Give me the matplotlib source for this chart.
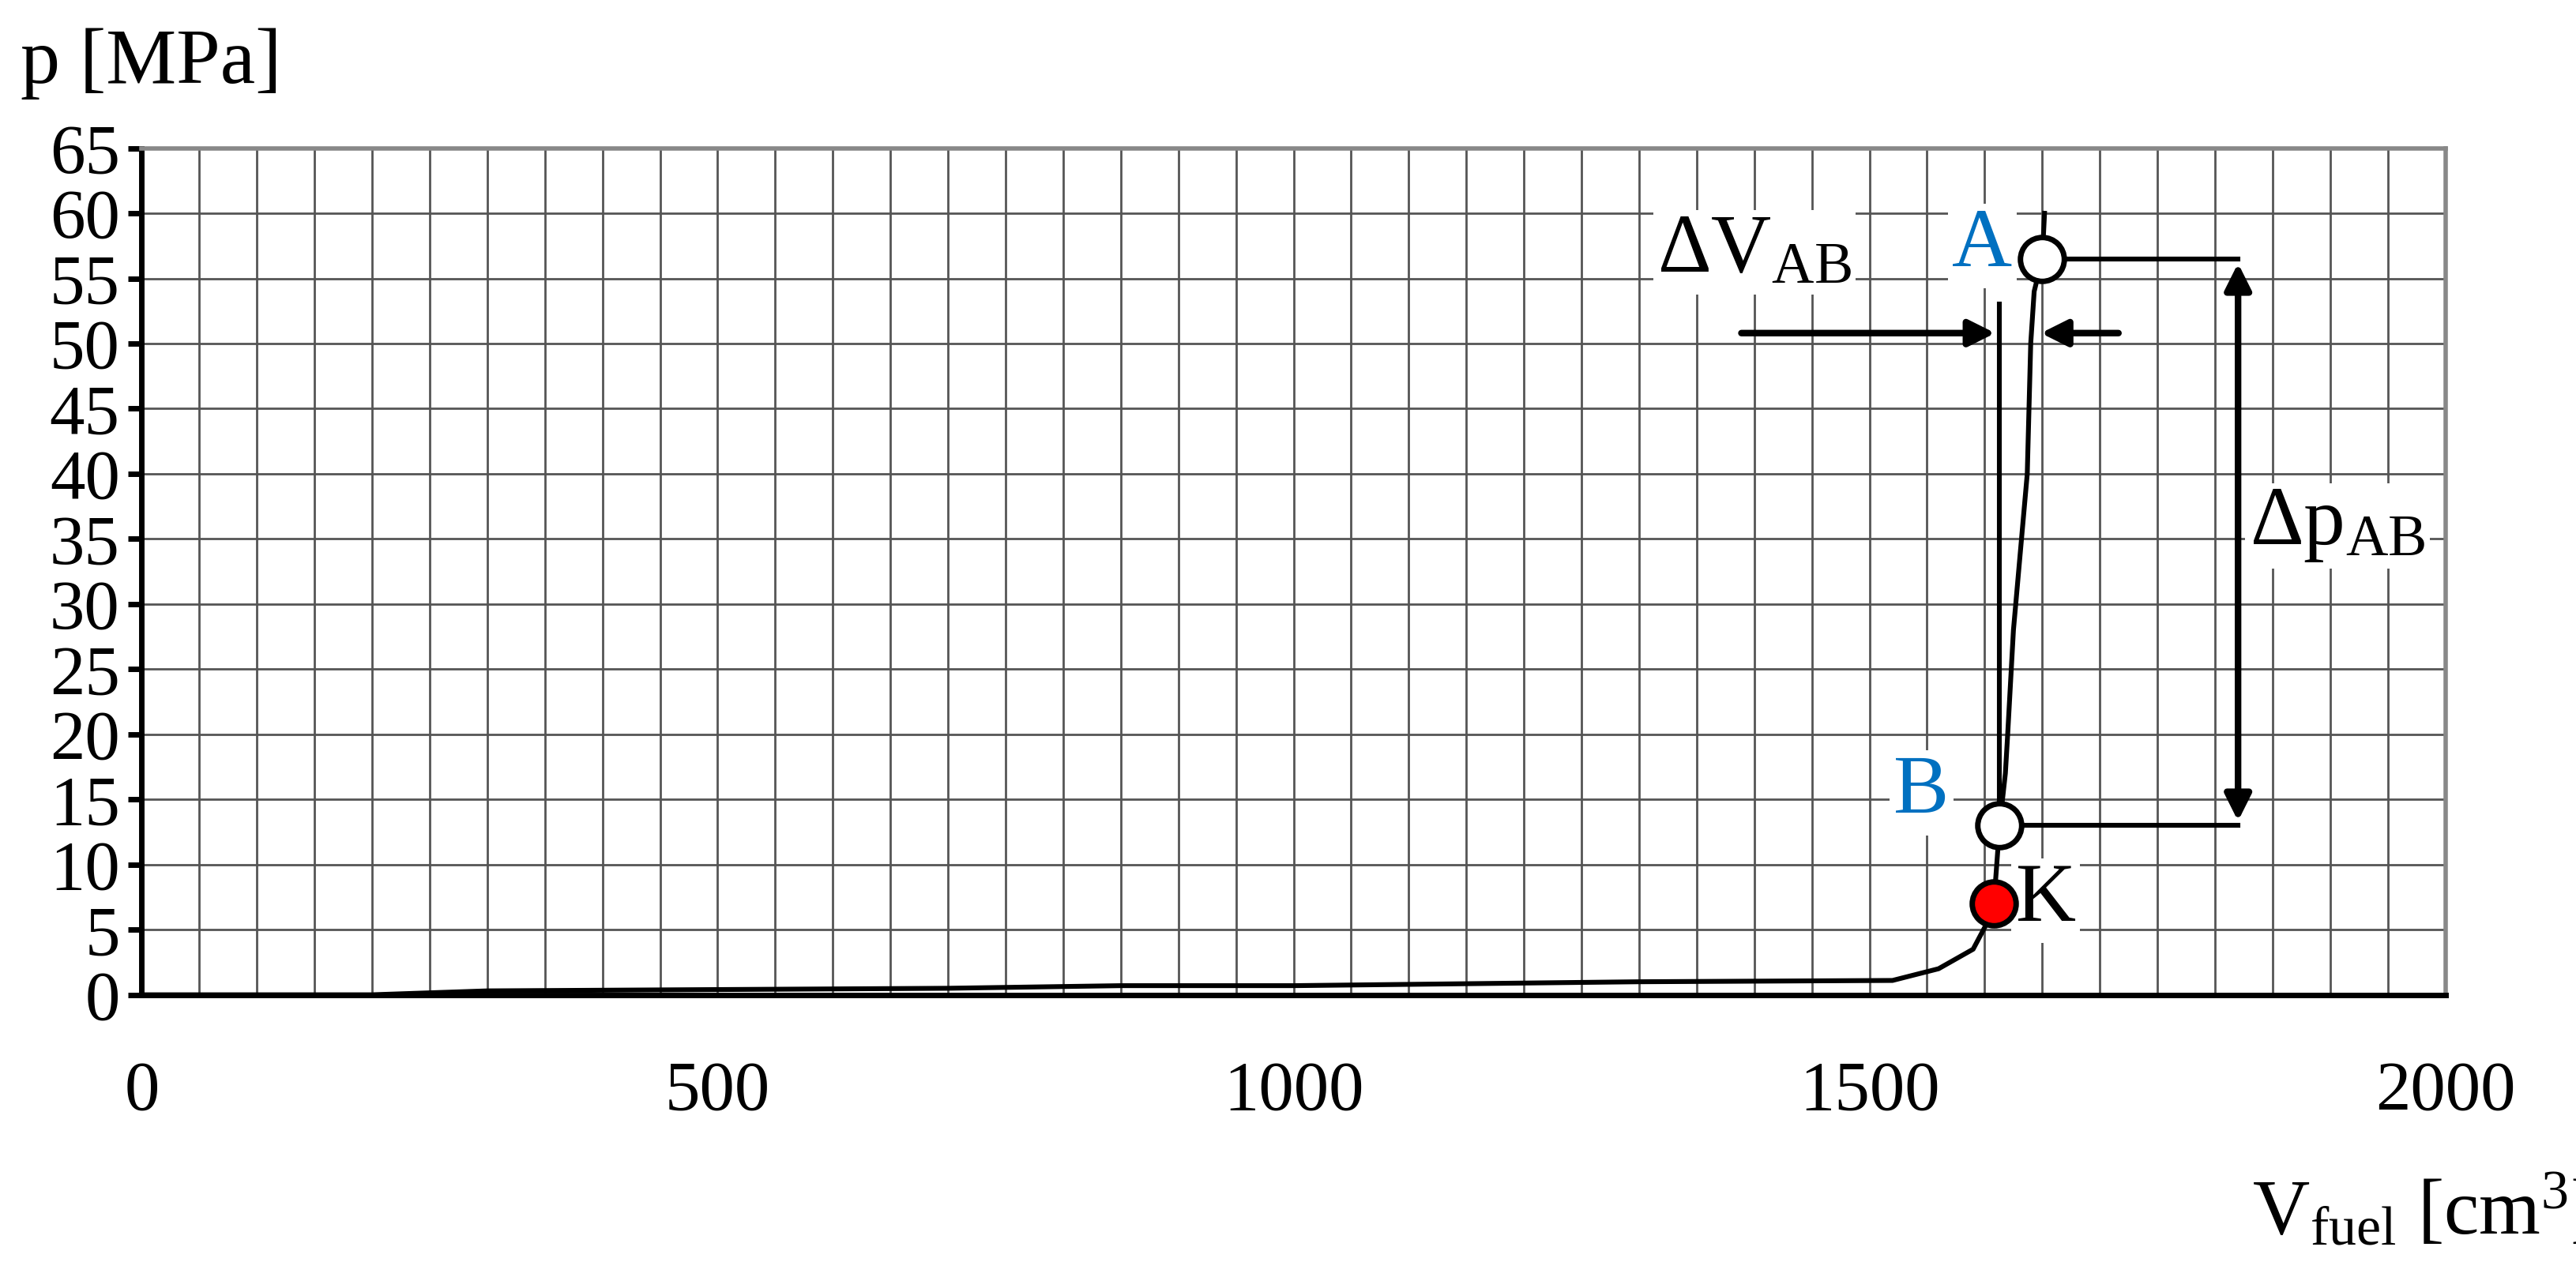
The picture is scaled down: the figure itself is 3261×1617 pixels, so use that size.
import matplotlib
matplotlib.use("Agg")
import matplotlib.pyplot as plt
import numpy as np

V = [0, 200, 300, 500, 700, 850, 1000, 1300, 1520, 1560, 1590, 1605, 1608, 1613, 1618, 1620, 1625, 1632, 1637, 1640, 1643, 1650, 1652]
P = [0, 0, 0.3, 0.4, 0.5, 0.7, 0.7, 1.0, 1.1, 2.0, 3.5, 6.0, 7.0, 13.0, 17, 20, 28, 35, 40, 50, 54, 56.5, 60]
K = (1608, 7.0)
B = (1613, 13.0)
A = (1650, 56.5)
xticks = [0, 500, 1000, 1500, 2000]
yticks = list(range(0, 70, 5))

plt.rcParams['font.family'] = ['Liberation Serif', 'DejaVu Serif']
plt.rcParams['mathtext.fontset'] = 'custom'
plt.rcParams['mathtext.rm'] = 'Liberation Serif'
plt.rcParams['mathtext.it'] = 'Liberation Serif:italic'
fig = plt.figure(figsize=(16.31, 8.085), dpi=200)
ax = fig.add_axes([0.055, 0.221, 0.894, 0.663])
ax.set_xlim(0, 2000); ax.set_ylim(0, 65)
ax.set_xticks(np.arange(0, 2001, 50), minor=True)
ax.set_xticks(xticks); ax.set_yticks(yticks)
ax.grid(True, which='both', color='#555555', lw=1.0)
ax.set_axisbelow(True)
ax.tick_params(axis='x', length=0, labelsize=32, pad=30)
ax.tick_params(axis='x', which='minor', length=0)
ax.tick_params(axis='y', length=6, width=2.5, labelsize=32, pad=4)
for s in ['top', 'right']:
    ax.spines[s].set_color('#888888'); ax.spines[s].set_linewidth(2)
for s in ['left', 'bottom']:
    ax.spines[s].set_linewidth(2.5)

ax.plot(V, P, color='black', lw=2.2, zorder=3)
ax.plot([B[0], B[0]], [B[1], 53], color='black', lw=2.2, zorder=3)
ax.plot([A[0], 1820], [A[1], A[1]], color='black', lw=2.2, zorder=3)
ax.plot([B[0], 1820], [B[1], B[1]], color='black', lw=2.2, zorder=3)
ax.annotate('', xy=(1820, A[1]), xytext=(1820, B[1]),
            arrowprops=dict(arrowstyle='<|-|>', color='black', lw=3, mutation_scale=25), zorder=4)
ax.annotate('', xy=(B[0], 50.8), xytext=(1385, 50.8),
            arrowprops=dict(arrowstyle='-|>', color='black', lw=3, mutation_scale=25), zorder=4)
ax.annotate('', xy=(1645, 50.8), xytext=(1720, 50.8),
            arrowprops=dict(arrowstyle='-|>', color='black', lw=3, mutation_scale=25), zorder=4)
ax.plot(B[0], B[1], 'o', ms=20, mfc='white', mec='black', mew=2.5, zorder=5)
ax.plot(A[0], A[1], 'o', ms=20, mfc='white', mec='black', mew=2.5, zorder=5)
ax.plot(K[0], K[1], 'o', ms=20, mfc='red', mec='black', mew=2.5, zorder=5)

box = dict(facecolor='white', edgecolor='none', pad=2)
ax.text(1400, 57, r'$\Delta\mathrm{V}_{\mathrm{AB}}$', fontsize=38, ha='center', va='center', bbox=box, zorder=2)
ax.text(1598, 57.5, 'A', fontsize=38, color='#0070C0', ha='center', va='center', bbox=box, zorder=2)
ax.text(1545, 15.5, 'B', fontsize=38, color='#0070C0', ha='center', va='center', bbox=box, zorder=2)
ax.text(1627, 7.2, 'K', fontsize=38, ha='left', va='center', bbox=box, zorder=2)
ax.text(1830, 36, r'$\Delta\mathrm{p}_{\mathrm{AB}}$', fontsize=38, ha='left', va='center', bbox=box, zorder=2)

fig.text(0.008, 0.95, 'p [MPa]', fontsize=36, ha='left', va='center')
fig.text(0.94, 0.05, r'V$_{\mathrm{fuel}}$ [cm$^3$]', fontsize=36, ha='center', va='center')
fig.savefig('out.png', dpi=200, facecolor='white')
